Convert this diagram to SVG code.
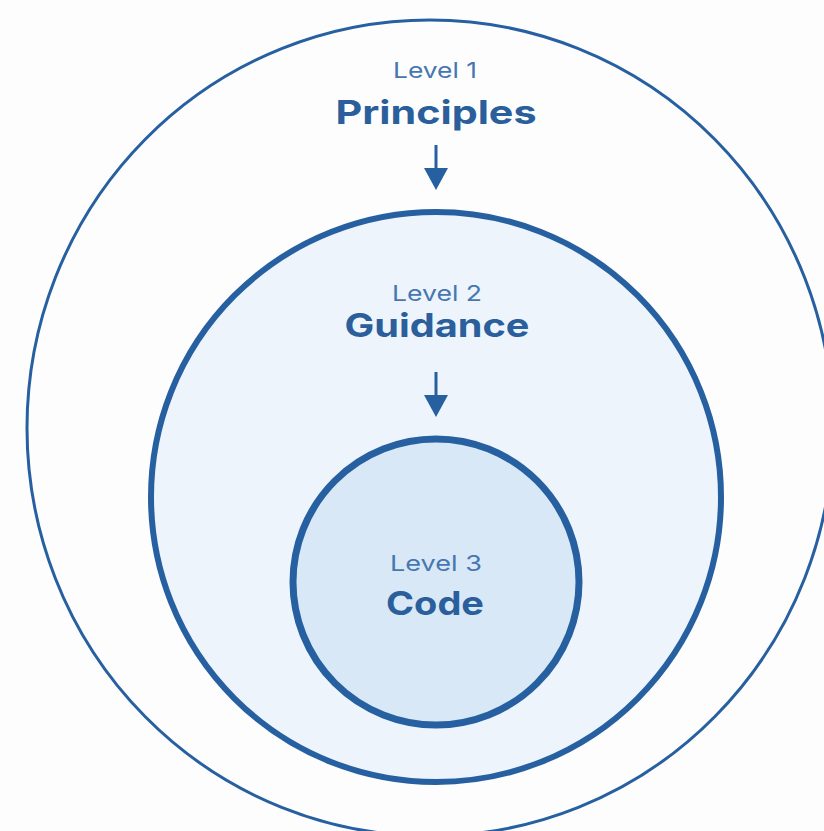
<svg xmlns="http://www.w3.org/2000/svg" width="824" height="831" viewBox="0 0 824 831">
  <style>
    .ring { stroke: #2760a0; }
    .lvl { font-family: Inter, Roboto, "Liberation Sans", sans-serif; font-size: 22px; fill: #4677b0; text-anchor: middle; }
    .name { font-family: Inter, Roboto, "Liberation Sans", sans-serif; font-size: 33px; font-weight: 700; fill: #2a5f9c; text-anchor: middle; }
    .conn { stroke: #2760a0; stroke-width: 3; fill: none; }
  </style>
  <rect width="824" height="831" fill="#fdfdfd"/>
  <g id="level1">
    <ellipse class="ring" cx="430" cy="428" rx="403" ry="408" fill="#fdfdfd" stroke-width="3"/>
    <text class="lvl" x="435" y="78" textLength="84" lengthAdjust="spacingAndGlyphs">Level 1</text>
    <text class="name" x="436" y="124" textLength="201" lengthAdjust="spacingAndGlyphs">Principles</text>
  </g>
  <g id="level2">
    <circle class="ring" cx="436" cy="497" r="285" fill="#edf4fc" stroke-width="6"/>
    <text class="lvl" x="437" y="301" textLength="90" lengthAdjust="spacingAndGlyphs">Level 2</text>
    <text class="name" x="437" y="337" textLength="185" lengthAdjust="spacingAndGlyphs">Guidance</text>
  </g>
  <g id="level3">
    <circle class="ring" cx="436" cy="582" r="143" fill="#d9e8f7" stroke-width="7"/>
    <text class="lvl" x="436" y="571" textLength="92" lengthAdjust="spacingAndGlyphs">Level 3</text>
    <text class="name" x="435" y="615" textLength="98" lengthAdjust="spacingAndGlyphs">Code</text>
  </g>
  <g id="connectors">
    <line class="conn" x1="436" y1="145" x2="436" y2="170"/>
    <path d="M424,168 L448,168 L436,190 Z" fill="#2760a0"/>
    <line class="conn" x1="436" y1="372" x2="436" y2="397"/>
    <path d="M424,395 L448,395 L436,417 Z" fill="#2760a0"/>
  </g>
</svg>
